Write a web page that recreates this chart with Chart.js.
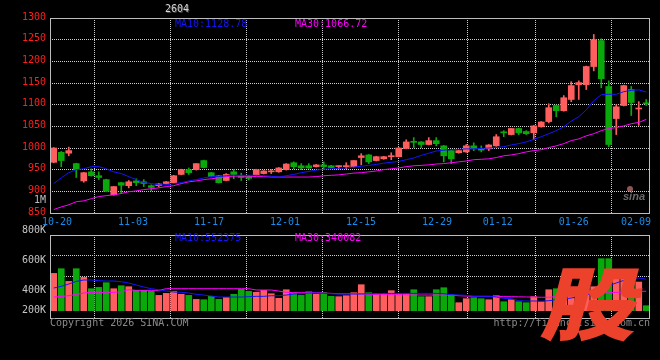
<!DOCTYPE html>
<html>
<head>
<meta charset="utf-8">
<script src="https://cdn.jsdelivr.net/npm/chart.js@4.4.1/dist/chart.umd.min.js"></script>
<style>
  html, body { margin: 0; padding: 0; background: #000; }
  #wrap { position: relative; width: 660px; height: 360px; background: #000; overflow: hidden; }
  #wrap canvas { position: absolute; left: 0; }
</style>
</head>
<body>
<div id="wrap">
  <canvas id="kline" width="660" height="230" style="top:0"></canvas>
  <canvas id="vol" width="660" height="136" style="top:224px"></canvas>
</div>
<script>
// trading days shown (10-17 .. 02-09)
const dates = [
  '10-17','10-20','10-21','10-22','10-23','10-24','10-27','10-28','10-29','10-30','10-31',
  '11-03','11-04','11-05','11-06','11-07','11-10','11-11','11-12','11-13','11-14',
  '11-17','11-18','11-19','11-20','11-21','11-24','11-25','11-26','11-27','11-28',
  '12-01','12-02','12-03','12-04','12-05','12-08','12-09','12-10','12-11','12-12',
  '12-15','12-16','12-17','12-18','12-19','12-22','12-23','12-24','12-25','12-26',
  '12-29','12-30','12-31','01-05','01-06','01-07','01-08','01-09',
  '01-12','01-13','01-14','01-15','01-16','01-19','01-20','01-21','01-22','01-23',
  '01-26','01-27','01-28','01-29','01-30','02-02','02-03','02-04','02-05','02-06',
  '02-09'
];

const open = [967,990,988,964,924,945,936,927,892,920,
  913,924,922,913,913,918,920,939,950,950,
  971,943,936,925,945,936,935,938,941,945,
  945,950,966,959,959,957,961,959,957,957,
  957,978,984,971,975,980,980,999,1014,1014,
  1008,1017,1005,994,989,991,1005,998,998,1005,
  1036,1031,1045,1038,1035,1049,1061,1098,1086,1112,
  1146,1146,1188,1248,1142,1068,1098,1135,1090,1103];
const high = [1001,992,1002,965,944,952,945,928,911,921,
  925,929,927,915,918,923,937,951,954,964,
  972,944,937,941,950,942,937,951,948,950,
  955,964,968,964,964,962,968,960,959,966,
  971,987,985,981,981,989,1001,1019,1024,1015,
  1024,1024,1006,995,995,1008,1012,1005,1008,1031,
  1040,1045,1046,1040,1052,1061,1102,1099,1121,1153,
  1155,1189,1262,1252,1155,1100,1145,1142,1107,1112];
const low = [966,957,982,932,921,935,927,899,891,895,
  908,913,911,901,910,917,919,938,939,949,
  954,933,919,924,929,925,926,937,940,941,
  944,949,952,950,953,956,950,954,952,952,
  956,961,964,970,974,973,979,998,1001,1001,
  1007,1005,968,964,988,990,994,991,994,1004,
  1026,1030,1031,1031,1019,1048,1058,1072,1085,1107,
  1112,1135,1178,1139,1003,1031,1097,1075,1052,1098];
const close = [1000,971,994,950,943,936,932,900,911,914,
  922,920,918,909,917,922,936,950,943,964,
  955,934,920,939,939,932,930,950,947,946,
  954,963,957,954,954,961,957,955,958,958,
  971,982,968,980,980,981,1000,1014,1013,1008,
  1017,1010,982,975,994,1005,998,995,1007,1026,
  1035,1045,1035,1033,1051,1060,1093,1086,1116,1144,
  1151,1188,1250,1160,1008,1095,1144,1105,1091,1102];

// moving averages
const ma10 = [918,931,943,950,952,957,957,952,945,941,
  934,927,920,918,915,915,918,920,924,927,
  931,934,934,936,937,937,937,937,936,935,
  933,936,939,943,946,949,951,952,953,954,
  956,958,960,962,965,967,969,973,977,983,
  988,993,995,996,997,998,998,999,1000,1001,
  1003,1007,1010,1014,1020,1026,1033,1040,1049,1062,
  1072,1088,1109,1123,1124,1124,1130,1133,1134,1129];
const ma30 = [858,864,869,876,878,883,888,890,892,895,
  899,901,904,906,908,911,913,918,922,924,
  927,929,931,934,935,935,935,934,934,933,
  933,933,933,933,933,934,936,937,938,940,
  942,943,945,947,950,952,954,957,959,960,
  961,963,964,966,968,970,973,974,975,978,
  982,984,987,991,994,996,1001,1005,1010,1017,
  1021,1028,1033,1040,1045,1047,1051,1056,1059,1066];

// volume, thousands
const volumeK = [653,735,513,735,583,385,408,490,385,437,
  420,356,356,338,268,303,338,286,268,198,
  192,251,198,233,286,373,338,321,356,297,
  216,367,315,268,332,286,315,251,245,262,
  315,455,315,297,297,350,297,297,367,245,
  245,367,402,280,140,210,227,210,192,262,
  157,192,157,140,245,157,367,385,330,380,
  300,380,420,910,910,560,620,560,502,87];
const volMa10K = [397,426,467,513,537,537,525,519,519,507,
  484,449,414,385,367,344,327,321,309,286,
  274,257,239,239,239,239,245,251,251,262,
  262,274,292,297,309,309,303,297,292,292,
  292,292,297,297,303,303,303,303,303,303,
  303,303,297,280,275,268,251,251,251,240,
  216,210,175,170,170,165,175,190,205,222,
  250,280,310,380,440,485,530,560,572,552];
const volMa30K = [239,250,262,285,309,321,321,321,321,330,
  367,356,356,356,356,385,385,385,385,385,
  385,385,385,385,385,385,385,362,362,362,
  344,321,315,315,315,315,309,303,297,297,
  297,297,285,280,280,280,280,278,276,274,
  274,274,274,270,262,256,251,251,251,248,
  246,245,243,240,238,235,235,245,255,265,
  275,285,295,305,315,320,328,335,340,340];

const xTickDates = ['10-20','11-03','11-17','12-01','12-15','12-29','01-12','01-26','02-09'];
const volTickLabels = ['800K','600K','400K','200K'];
const title = '2604';
const priceLegend = ['MA10:1128.78', 'MA30:1066.72'];
const volLegend = ['MA10:552375', 'MA30:340082'];

// colours
const UP = '#ff5e5e';
const DOWN = '#0aa80a';
const BLUE = '#1414ff';
const MAGENTA = '#ff00ff';
const GRID = '#cfcfcf';
const FRAME = '#bdbdbd';
const RED = '#ff1e1e';
const DATE_BLUE = '#1a8ce8';
const FONT = "10px 'DejaVu Sans Mono', monospace";

Chart.defaults.font.family = "'DejaVu Sans Mono', monospace";
Chart.defaults.font.size = 10;

const barColors = close.map((c, i) => c >= open[i] ? UP : DOWN);
const pts = arr => arr.map((v, i) => ({ x: i, y: v }));

// sina's date grid steps 7.6px a day while candles step 7.5px
function gridPos(d) {
  return (dates.indexOf(d) - 1) * 76 / 75 + 0.43;
}

function xScale(h) {
  return {
    type: 'linear', min: -0.5, max: dates.length - 0.5, offset: false,
    grid: { color: GRID, drawTicks: false },
    border: { display: false, dash: [1, 1] },
    ticks: { display: false, callback: (v, i) => xTickDates[i] },
    afterBuildTicks: s => { s.ticks = xTickDates.map(d => ({ value: gridPos(d) })); },
    afterFit: s => { s.height = h; s.paddingLeft = 0; s.paddingRight = 0; }
  };
}

function frame(ctx, a) {
  ctx.strokeStyle = FRAME;
  ctx.lineWidth = 1;
  ctx.strokeRect(a.left + 0.5, a.top + 0.5, a.right - a.left - 1, a.bottom - a.top);
}

const priceDeco = {
  id: 'priceDeco',
  afterDraw(chart) {
    const { ctx, chartArea: a, scales: { x } } = chart;
    ctx.save();
    frame(ctx, a);
    ctx.font = FONT;
    ctx.textBaseline = 'middle';

    // date labels, last one kept inside the frame
    ctx.fillStyle = DATE_BLUE;
    ctx.textAlign = 'left';
    xTickDates.forEach(d => {
      const px = x.getPixelForValue(gridPos(d));
      const w = ctx.measureText(d).width;
      let left = px - w / 2;
      if (left + w > a.right + 1) left = a.right + 1 - w;
      ctx.fillText(d, left, 222);
    });

    ctx.fillStyle = BLUE;
    ctx.fillText(priceLegend[0], 175, 24);
    ctx.fillStyle = MAGENTA;
    ctx.fillText(priceLegend[1], 295, 24);

    ctx.fillStyle = '#444';
    ctx.textAlign = 'center';
    ctx.fillText(title, 178, 10);
    ctx.fillStyle = '#d4d4d4';
    ctx.fillText(title, 177, 9);

    ctx.fillStyle = FRAME;
    ctx.textAlign = 'right';
    ctx.fillText('1M', 46, 200);

    // faint sina logo
    ctx.fillStyle = 'rgba(240,140,140,0.6)';
    ctx.beginPath();
    ctx.arc(630, 189, 3, 0, Math.PI * 2);
    ctx.fill();
    ctx.font = "italic bold 11px 'Liberation Sans'";
    ctx.fillStyle = 'rgba(220,210,210,0.5)';
    ctx.textAlign = 'left';
    ctx.fillText('sina', 623, 197);
    ctx.restore();
  }
};

const volDeco = {
  id: 'volDeco',
  afterDraw(chart) {
    const { ctx, chartArea: a } = chart;
    ctx.save();
    frame(ctx, a);
    ctx.font = FONT;
    ctx.textBaseline = 'middle';

    ctx.fillStyle = '#c4c4c4';
    ctx.textAlign = 'right';
    [6.7, 36.7, 66.7, 86.7].forEach((y, i) => ctx.fillText(volTickLabels[i], 46, y));

    ctx.textAlign = 'left';
    ctx.fillStyle = BLUE;
    ctx.fillText(volLegend[0], 175, 14);
    ctx.fillStyle = MAGENTA;
    ctx.fillText(volLegend[1], 295, 14);

    ctx.fillStyle = '#8a8a8a';
    ctx.fillText('Copyright 2026 SINA.COM', 50, 99.5);
    ctx.textAlign = 'right';
    ctx.fillText('http://finance.sina.com.cn', 650, 99.5);

    // red watermark
    ctx.fillStyle = 'rgb(236,66,44)';
    ctx.font = "900 80px 'Noto Sans CJK SC'";
    ctx.textAlign = 'center';
    ctx.textBaseline = 'middle';
    ctx.setTransform(1.2, 0, -0.26, 1, 595, 80);
    ctx.fillText('股', 0, 0);
    ctx.restore();
  }
};

// candlestick chart
new Chart(document.getElementById('kline'), {
  type: 'bar',
  data: {
    datasets: [
      { type: 'line', data: pts(ma10), borderColor: BLUE, borderWidth: 1, pointRadius: 0, order: 0 },
      { type: 'line', data: pts(ma30), borderColor: MAGENTA, borderWidth: 1, pointRadius: 0, order: 0 },
      {
        data: open.map((o, i) => ({ x: i, y: [o, close[i]] })),
        backgroundColor: barColors, barThickness: 6, minBarLength: 1, grouped: false, order: 1
      },
      {
        data: low.map((l, i) => ({ x: i, y: [l, high[i]] })),
        backgroundColor: barColors, barThickness: 1, grouped: false, order: 2
      }
    ]
  },
  options: {
    responsive: false, animation: false, events: [],
    layout: { padding: { top: 18, right: 10, left: 0, bottom: 0 } },
    plugins: { legend: { display: false }, tooltip: { enabled: false } },
    scales: {
      x: xScale(17),
      y: {
        min: 850, max: 1300,
        ticks: { stepSize: 50, color: RED, padding: 4, labelOffset: -1, callback: v => String(v) },
        grid: { color: GRID, drawTicks: false },
        border: { display: false, dash: [1, 1] },
        afterFit: s => { s.width = 50; s.paddingTop = 0; s.paddingBottom = 0; }
      }
    }
  },
  plugins: [priceDeco]
});

// volume chart
new Chart(document.getElementById('vol'), {
  type: 'bar',
  data: {
    datasets: [
      { type: 'line', data: pts(volMa10K), borderColor: BLUE, borderWidth: 1, pointRadius: 0, order: 0 },
      { type: 'line', data: pts(volMa30K), borderColor: MAGENTA, borderWidth: 1, pointRadius: 0, order: 0 },
      { data: pts(volumeK), backgroundColor: barColors, barThickness: 6, grouped: false, order: 1 }
    ]
  },
  options: {
    responsive: false, animation: false, events: [],
    layout: { padding: { top: 11, right: 10, left: 0, bottom: 0 } },
    plugins: { legend: { display: false }, tooltip: { enabled: false } },
    scales: {
      x: xScale(42),
      y: {
        min: -128, max: 1325,
        ticks: { display: false },
        grid: { color: GRID, drawTicks: false },
        border: { display: false, dash: [1, 1] },
        // grid at a quarter and half way down the panel
        afterBuildTicks: s => { s.ticks = [0.25, 0.5].map(f => ({ value: s.max - (s.max - s.min) * f })); },
        afterFit: s => { s.width = 50; s.paddingTop = 0; s.paddingBottom = 0; }
      }
    }
  },
  plugins: [volDeco]
});
</script>
</body>
</html>
